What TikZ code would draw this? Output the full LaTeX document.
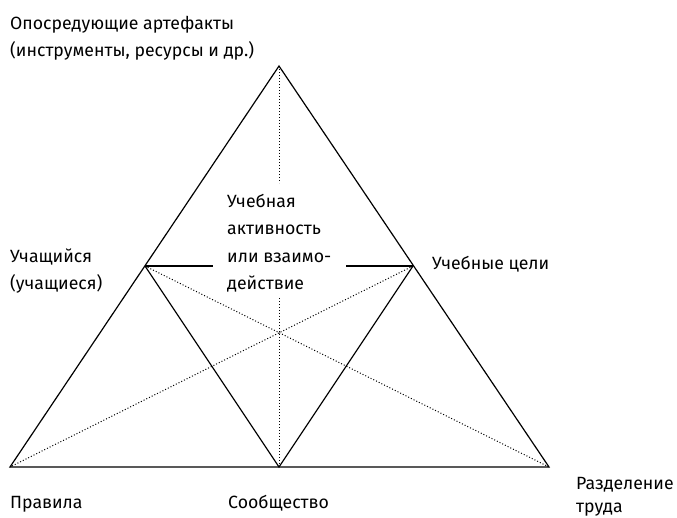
\documentclass[tikz,border=0pt]{standalone}
\usepackage{fontspec}
\setmainfont{Fira Sans}
\begin{document}
\begin{tikzpicture}[x=1pt,y=-1pt,
  solidline/.style={line width=1.2pt},
  dotline/.style={line width=1pt, dash pattern=on 1pt off 2pt},
  lbl/.style={anchor=base west, inner sep=0pt, align=left, font=\fontsize{17.7}{27.5}\selectfont}]
\useasboundingbox (0,0) rectangle (677,518);
% vertices
\coordinate (A) at (279,66);
\coordinate (L) at (10,467);
\coordinate (R) at (549,467);
\coordinate (ML) at (145,266);
\coordinate (MR) at (413,266);
\coordinate (B) at (279,467);
\coordinate (g1) at (213,266);
\coordinate (g2) at (346,266);
\coordinate (c1) at (279,183);
\coordinate (c2) at (279,298);
% solid lines
\draw[solidline, line join=miter] (L) -- (A) -- (R) -- cycle;
\draw[solidline] (ML) -- (B) -- (MR);
\draw[solidline] (ML) -- (g1);
\draw[solidline] (g2) -- (MR);
% dotted lines
\draw[dotline] (A) -- (c1);
\draw[dotline] (c2) -- (B);
\draw[dotline] (ML) -- (R);
\draw[dotline] (MR) -- (L);
% labels (base = baseline of last line)
\node[lbl] (tools) at (10,57) {Опосредующие артефакты\\(инструменты, ресурсы и др.)};
\node[lbl] (subj) at (10,290) {Учащийся\\(учащиеся)};
\node[lbl] (obj) at (432,270) {Учебные цели};
\node[lbl] (act) at (227,290) {Учебная\\активность\\или взаимо-\\действие};
\node[lbl] (rules) at (10,508) {Правила};
\node[lbl] (comm) at (228,508) {Сообщество};
\node[lbl, font=\fontsize{17.7}{22.5}\selectfont] (div) at (576,512) {Разделение\\труда};
\end{tikzpicture}
\end{document}
